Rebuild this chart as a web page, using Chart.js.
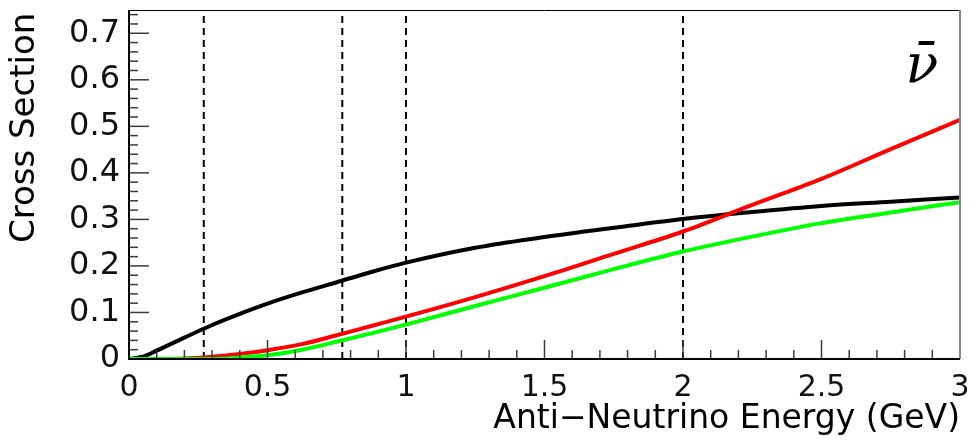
<!DOCTYPE html>
<html>
<head>
<meta charset="utf-8">
<script src="https://cdn.jsdelivr.net/npm/chart.js@4.4.1/dist/chart.umd.min.js"></script>
<style>
  html, body { margin: 0; padding: 0; background: #ffffff; }
  #wrap { width: 972px; height: 445px; }
</style>
</head>
<body>
<div id="wrap"><canvas id="c" width="972" height="445"></canvas></div>
<script>
// ---- data ----
const energy = [0, 0.05, 0.1, 0.2, 0.3, 0.4, 0.5, 0.625, 0.75, 0.875, 1.0, 1.25, 1.5, 1.75, 2.0, 2.25, 2.5, 2.75, 3.0];
const xsecBlack = [0, 0.005, 0.018, 0.046, 0.073, 0.097, 0.119, 0.143, 0.165, 0.187, 0.207, 0.239, 0.262, 0.282, 0.301, 0.316, 0.329, 0.338, 0.347];
const xsecRed   = [0, 0, 0, 0.001, 0.005, 0.011, 0.019, 0.032, 0.051, 0.071, 0.091, 0.133, 0.178, 0.226, 0.274, 0.331, 0.387, 0.451, 0.514];
const xsecGreen = [0, 0, 0, 0, 0, 0.003, 0.008, 0.020, 0.037, 0.055, 0.074, 0.114, 0.153, 0.193, 0.231, 0.263, 0.292, 0.315, 0.337];
const dashedEnergies = [0.27, 0.77, 1.0, 2.0];
const xTickStep = 0.5, yTickStep = 0.1;
const xMin = 0, xMax = 3, yMin = 0, yMax = 0.75;
const xTitle = 'Anti\u2212Neutrino Energy (GeV)';
const yTitle = 'Cross Section';
const corner = '\u03BD\u0304';

const pts = arr => energy.map((e, i) => ({x: e, y: arr[i]}));

const curve = (label, data, color) => ({
  label, data: pts(data), borderColor: color, backgroundColor: color,
  borderWidth: 4, pointRadius: 0, cubicInterpolationMode: 'monotone', fill: false
});

const datasets = [
  curve('green', xsecGreen, '#00ff00'),
  curve('red', xsecRed, '#ff0000'),
  curve('black', xsecBlack, '#000000')
];
dashedEnergies.forEach(e => datasets.push({
  label: 'E=' + e, data: [{x: e, y: yMin}, {x: e, y: yMax}],
  borderColor: '#000000', borderWidth: 2, borderDash: [7, 5], pointRadius: 0, fill: false
}));

const fmt = v => String(Math.round(v * 100) / 100);

const framePlugin = {
  id: 'frame',
  afterDatasetsDraw(chart) {
    const {ctx, chartArea: a, scales: {x, y}} = chart;
    ctx.save();
    ctx.strokeStyle = '#3a3a3a';
    ctx.lineWidth = 1.5;
    // x ticks (inside), minor every 0.1
    for (let i = 0; i <= 30; i++) {
      const px = x.getPixelForValue(i / 10);
      const len = (i % 5 === 0) ? 19 : 9;
      ctx.beginPath(); ctx.moveTo(px, a.bottom); ctx.lineTo(px, a.bottom - len); ctx.stroke();
    }
    // y ticks (inside), minor every 0.02
    for (let i = 0; i <= 37; i++) {
      const py = y.getPixelForValue(i * 0.02);
      const len = (i % 5 === 0) ? 20 : 9;
      ctx.beginPath(); ctx.moveTo(a.left, py); ctx.lineTo(a.left + len, py); ctx.stroke();
    }
    // frame
    ctx.strokeStyle = '#000'; ctx.lineWidth = 1;
    ctx.beginPath(); ctx.moveTo(a.left, a.top + 0.5); ctx.lineTo(a.right, a.top + 0.5); ctx.stroke();
    ctx.strokeStyle = '#888'; ctx.lineWidth = 2;
    ctx.beginPath(); ctx.moveTo(a.right, a.top); ctx.lineTo(a.right, a.bottom); ctx.stroke();
    ctx.strokeStyle = '#000'; ctx.lineWidth = 2;
    ctx.beginPath(); ctx.moveTo(a.left, a.top); ctx.lineTo(a.left, a.bottom); ctx.lineTo(a.right, a.bottom); ctx.stroke();
    // corner label
    ctx.fillStyle = '#000';
    ctx.font = 'italic 54px "DejaVu Serif"';
    ctx.textAlign = 'center';
    ctx.textBaseline = 'alphabetic';
    ctx.fillText(corner, 922, 82);
    // y axis title
    ctx.font = '34px "DejaVu Sans"';
    ctx.translate(25, 243);
    ctx.rotate(-Math.PI / 2);
    ctx.textAlign = 'left';
    ctx.textBaseline = 'middle';
    ctx.fillText(yTitle, 0, 0);
    ctx.restore();
  }
};

new Chart(document.getElementById('c'), {
  type: 'line',
  data: { datasets },
  plugins: [framePlugin],
  options: {
    responsive: false,
    animation: false,
    layout: { padding: { top: 10, right: 12, left: 0, bottom: 0 } },
    plugins: { legend: { display: false }, tooltip: { enabled: false } },
    scales: {
      x: {
        type: 'linear', min: xMin, max: xMax,
        grid: { display: false, drawTicks: false },
        border: { display: false },
        ticks: { stepSize: xTickStep, padding: 11, color: '#111', maxRotation: 0,
                 font: { family: 'DejaVu Sans', size: 30 }, includeBounds: false,
                 callback: v => fmt(v) },
        title: { display: true, text: xTitle, align: 'end', color: '#000',
                 font: { family: 'DejaVu Sans', size: 33 }, padding: { top: 0, bottom: 6 } },
        afterFit(s) { s.height = 86; s.paddingLeft = 0; s.paddingRight = 0; }
      },
      y: {
        type: 'linear', min: yMin, max: yMax,
        grid: { display: false, drawTicks: false },
        border: { display: false },
        ticks: { stepSize: yTickStep, padding: 9, color: '#111',
                 font: { family: 'DejaVu Sans', size: 32 }, includeBounds: false,
                 callback: v => fmt(v) },
        title: { display: false },
        afterFit(s) { s.width = 129; s.paddingTop = 0; s.paddingBottom = 0; }
      }
    }
  }
});
</script>
</body>
</html>
